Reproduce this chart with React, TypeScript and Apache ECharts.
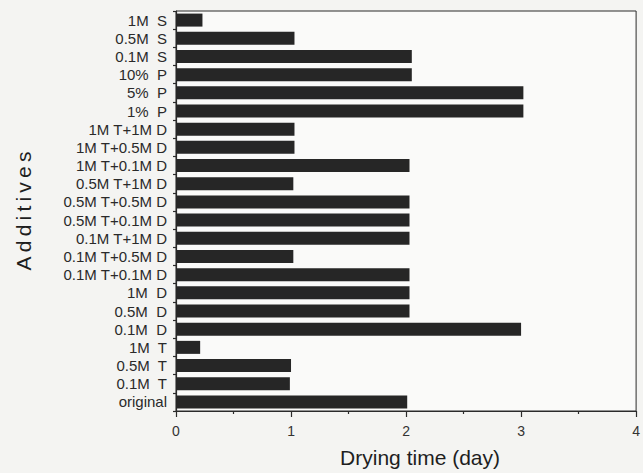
import React, { useEffect, useRef } from "react";
import * as echarts from "echarts";

// Categories listed bottom to top (as drawn on the category axis)
const categories: string[] = [
  "original",
  "0.1M  T",
  "0.5M  T",
  "1M  T",
  "0.1M  D",
  "0.5M  D",
  "1M  D",
  "0.1M T+0.1M D",
  "0.1M T+0.5M D",
  "0.1M T+1M D",
  "0.5M T+0.1M D",
  "0.5M T+0.5M D",
  "0.5M T+1M D",
  "1M T+0.1M D",
  "1M T+0.5M D",
  "1M T+1M D",
  "1%  P",
  "5%  P",
  "10%  P",
  "0.1M  S",
  "0.5M  S",
  "1M  S",
];

const dryingTime: number[] = [
  2.01, 0.99, 1.0, 0.21, 3.0, 2.03, 2.03, 2.03, 1.02, 2.03, 2.03, 2.03, 1.02,
  2.03, 1.03, 1.03, 3.02, 3.02, 2.05, 2.05, 1.03, 0.23,
];

const xMin = 0;
const xMax = 4;
const xInterval = 1;

const App: React.FC = () => {
  const ref = useRef<HTMLDivElement>(null);

  useEffect(() => {
    if (!ref.current) return;
    const chart = echarts.init(ref.current, undefined, { renderer: "svg" });
    const font = "'Liberation Sans', Arial, Helvetica, sans-serif";
    chart.setOption({
      animation: false,
      backgroundColor: "#f4f4f2",
      grid: {
        left: 176,
        right: 2,
        top: 11,
        bottom: 62,
        show: true,
        backgroundColor: "#fafaf9",
        borderColor: "#2b2b2b",
        borderWidth: 1,
      },
      xAxis: {
        type: "value",
        min: xMin,
        max: xMax,
        interval: xInterval,
        name: "Drying time (day)",
        nameLocation: "middle",
        nameGap: 36,
        nameTextStyle: {
          fontFamily: font,
          fontSize: 21,
          color: "#1e1e1e",
          padding: [0, 0, 0, 28],
        },
        axisLine: { show: true, lineStyle: { color: "#2b2b2b", width: 1.2 } },
        axisTick: {
          show: true,
          inside: false,
          length: 6,
          lineStyle: { color: "#2b2b2b", width: 1.2 },
        },
        minorTick: {
          show: true,
          splitNumber: 2,
          length: 3,
          lineStyle: { color: "#2b2b2b", width: 1.2 },
        },
        splitLine: { show: false },
        axisLabel: {
          fontFamily: font,
          fontSize: 14,
          color: "#333333",
          margin: 13,
        },
      },
      yAxis: {
        type: "category",
        data: categories,
        boundaryGap: true,
        name: "A\u2009d\u2009d\u2009i\u2009t\u2009i\u2009v\u2009e\u2009s",
        nameLocation: "middle",
        nameGap: 142,
        nameTextStyle: {
          fontFamily: font,
          fontSize: 21,
          color: "#1e1e1e",
        },
        axisLine: { show: true, lineStyle: { color: "#2b2b2b", width: 1.2 } },
        axisTick: {
          show: true,
          inside: false,
          length: 3,
          alignWithLabel: false,
          lineStyle: { color: "#2b2b2b", width: 1.2 },
        },
        splitLine: { show: false },
        axisLabel: {
          fontFamily: font,
          fontSize: 15,
          color: "#2a2a2a",
          margin: 9,
          interval: 0,
        },
      },
      series: [
        {
          type: "bar",
          data: dryingTime,
          barWidth: 13,
          itemStyle: { color: "#262626" },
        },
      ],
    });
    return () => chart.dispose();
  }, []);

  return (
    <div
      ref={ref}
      style={{ position: "fixed", left: 0, top: 0, width: 643, height: 473 }}
    />
  );
};

export default App;
